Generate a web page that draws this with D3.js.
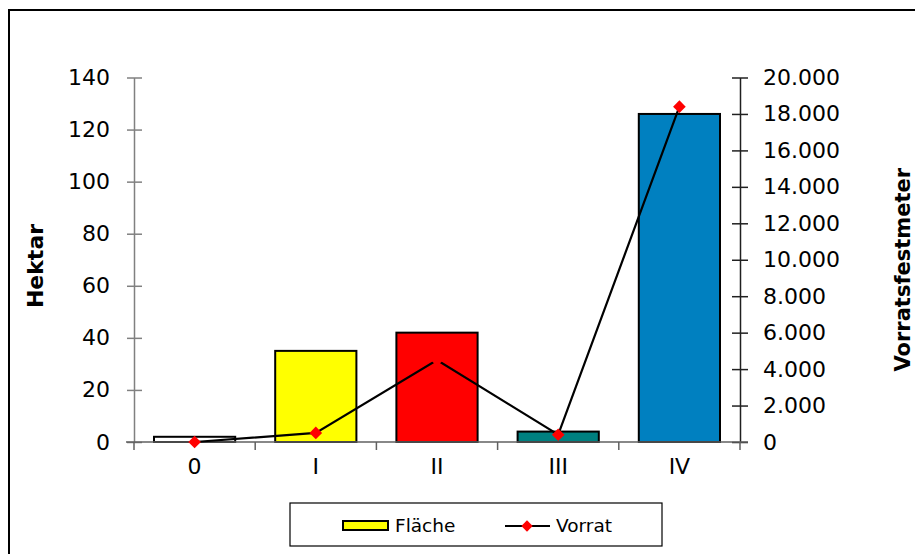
<!DOCTYPE html>
<html><head><meta charset="utf-8">
<script src="https://cdn.jsdelivr.net/npm/d3@7"></script>
<style>
body{margin:0;background:#fff;}
svg{display:block;font-family:"DejaVu Sans",Verdana,sans-serif;}
</style></head>
<body><svg id="c" width="915" height="554"></svg>
<script>
const categories = ["0","I","II","III","IV"];
const flaeche = [2, 35, 42, 4, 126];
const vorrat = [0, 500, 4500, 400, 18400];
const barColors = ["#FFFFFF","#FFFF00","#FF0000","#008080","#0080C0"];
const leftTicks = [0,20,40,60,80,100,120,140];
const rightTicks = [0,2000,4000,6000,8000,10000,12000,14000,16000,18000,20000];

const svg = d3.select("#c");
// outer frame
svg.append("rect").attr("x",9).attr("y",10).attr("width",915).attr("height",560)
  .attr("fill","#fff").attr("stroke","#000").attr("stroke-width",2);

const x0 = 134, x1 = 740, yTop = 77.5, yBot = 442;
const x = d3.scaleBand().domain(categories).range([x0,x1]).paddingInner(0.33).paddingOuter(0.165);
const yL = d3.scaleLinear().domain([0,140]).range([yBot,yTop]);
const yR = d3.scaleLinear().domain([0,20000]).range([yBot,yTop]);
const loc = d3.formatLocale({decimal:",",thousands:".",grouping:[3],currency:["","€"]});
const fmt = loc.format(",d");

// bars
svg.append("g").selectAll("rect").data(categories).join("rect")
  .attr("x",d=>x(d)).attr("width",x.bandwidth())
  .attr("y",(d,i)=>yL(flaeche[i])).attr("height",(d,i)=>yBot-yL(flaeche[i]))
  .attr("fill",(d,i)=>barColors[i]).attr("stroke","#000").attr("stroke-width",2);

// left axis
const gL = svg.append("g").attr("transform",`translate(${x0},0)`)
  .call(d3.axisLeft(yL).tickValues(leftTicks).tickSize(0).tickPadding(24));
gL.select(".domain").attr("stroke","#808080").attr("stroke-width",1.5);
gL.selectAll(".tick").append("line").attr("x1",-7).attr("x2",8).attr("stroke","#808080").attr("stroke-width",1.5);
gL.selectAll("text").attr("font-size",22).attr("fill","#000").attr("font-family","DejaVu Sans");

// right axis
const gR = svg.append("g").attr("transform",`translate(${x1},0)`)
  .call(d3.axisRight(yR).tickValues(rightTicks).tickFormat(fmt).tickSize(0).tickPadding(23));
gR.select(".domain").attr("stroke","#202020").attr("stroke-width",1.5);
gR.selectAll(".tick").append("line").attr("x1",-8).attr("x2",8).attr("stroke","#202020").attr("stroke-width",1.5);
gR.selectAll("text").attr("font-size",22).attr("fill","#000").attr("font-family","DejaVu Sans");

// x axis
const gX = svg.append("g").attr("transform",`translate(0,${yBot})`)
  .call(d3.axisBottom(x).tickSize(0).tickPadding(16));
gX.select(".domain").remove();
gX.append("line").attr("x1",x0-8).attr("x2",x1+8).attr("stroke","#606060").attr("stroke-width",1.5);
const bounds = categories.map(c=>x(c)-x.step()*x.paddingInner()/2).concat([x1]);
gX.selectAll(".bt").data(bounds).join("line").attr("class","bt")
  .attr("x1",d=>d).attr("x2",d=>d).attr("y1",0).attr("y2",8).attr("stroke","#606060").attr("stroke-width",1.5);
gX.selectAll(".tick text").attr("font-size",22).attr("fill","#000").attr("font-family","DejaVu Sans");

// line
const cx = d=>x(d)+x.bandwidth()/2;
const line = d3.line().x((d,i)=>cx(categories[i])).y(d=>yR(d));
svg.append("path").datum(vorrat).attr("d",line).attr("fill","none").attr("stroke","#000").attr("stroke-width",2.2);
svg.append("g").selectAll("path").data(vorrat).join("path")
  .attr("d",d3.symbol().type(d3.symbolSquare).size(80))
  .attr("transform",(d,i)=>`translate(${cx(categories[i])},${yR(d)}) rotate(45)`)
  .attr("fill","#FF0000");

// axis titles
svg.append("text").attr("transform",`translate(43,266) rotate(-90)`)
  .attr("text-anchor","middle").attr("font-size",22).attr("font-weight","bold").text("Hektar");
svg.append("text").attr("transform",`translate(910,${(yTop+yBot)/2+10}) rotate(-90)`)
  .attr("text-anchor","middle").attr("font-size",21).attr("font-weight","bold").text("Vorratsfestmeter");

// legend
const lg = svg.append("g");
lg.append("rect").attr("x",290).attr("y",503).attr("width",372).attr("height",43)
  .attr("fill","#fff").attr("stroke","#000").attr("stroke-width",1.2);
lg.append("rect").attr("x",343).attr("y",521).attr("width",45).attr("height",9)
  .attr("fill",barColors[1]).attr("stroke","#000").attr("stroke-width",2);
lg.append("text").attr("x",395).attr("y",532).attr("font-size",18.5).text("Fläche");
lg.append("line").attr("x1",505).attr("x2",550).attr("y1",526).attr("y2",526).attr("stroke","#000").attr("stroke-width",2);
lg.append("path").attr("d",d3.symbol().type(d3.symbolSquare).size(64)).attr("transform","translate(527,526) rotate(45)").attr("fill","#FF0000");
lg.append("text").attr("x",556).attr("y",532).attr("font-size",18.5).text("Vorrat");
</script></body></html>
